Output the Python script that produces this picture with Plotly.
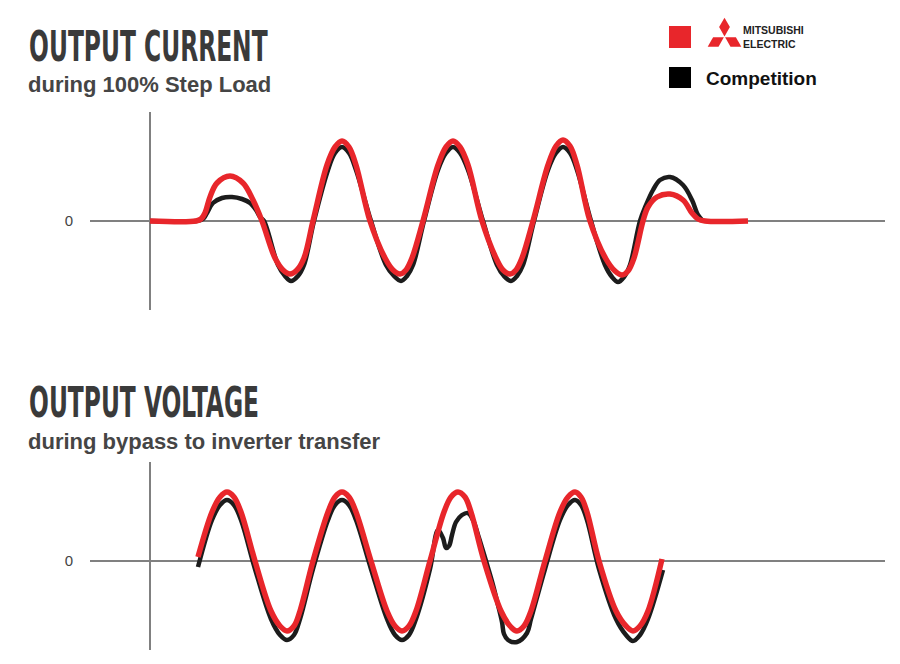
import json
import plotly.graph_objects as go

# ---------------- DATA (time units, signal units; 0 = zero line) ----------------
# Output current during 100% step load
cur_t_mitsu = [0, 46, 51, 55, 60, 67, 80, 93, 103, 112,
               125, 133, 140, 147, 154, 163, 177, 185, 192, 199, 206, 220,
               235, 243, 250, 256, 262, 273, 288, 296, 303, 310, 318, 332,
               346, 353, 360, 366, 372, 383, 398, 406, 413, 420, 427, 440,
               456, 465, 472, 478, 484, 493, 498, 507, 520, 533, 542, 548, 555, 598]
cur_v_mitsu = [0, 0, 2, 8, 24, 38, 45, 38, 21, 0,
               -37, -49, -53, -49, -37, 0, 56, 74, 80, 74, 56, 0,
               -37, -49, -53, -49, -37, 0, 56, 74, 80, 74, 56, 0,
               -37, -49, -53, -49, -37, 0, 56, 75, 81, 75, 56, 0,
               -38, -50, -54, -50, -37, 0, 14, 24, 27, 21, 8, 2, 0, 0]

cur_t_comp = [0, 46, 53, 57, 63, 72, 82, 92, 100, 106, 110, 114,
              128, 135, 141, 148, 154, 164, 178, 185, 192, 199, 206, 221,
              236, 244, 251, 257, 263, 274, 288, 296, 303, 310, 318, 333,
              347, 354, 361, 367, 373, 384, 398, 406, 413, 420, 427, 441,
              455, 462, 468, 474, 480, 490, 496, 503, 510, 520, 533, 542, 548, 553]
cur_v_comp = [0, 0, 2, 8, 18, 23, 24, 22, 18, 11, 4, 0,
              -44, -55, -60, -55, -44, 0, 51, 68, 74, 68, 51, 0,
              -44, -55, -60, -55, -44, 0, 51, 68, 74, 68, 51, 0,
              -44, -55, -60, -55, -44, 0, 51, 68, 74, 68, 51, 0,
              -44, -56, -61, -56, -44, 0, 16, 31, 41, 44, 36, 21, 6, 0]

# Output voltage during bypass to inverter transfer
vol_t_mitsu = [48, 62, 70, 77, 84, 91, 105, 121, 130, 137, 144, 150, 163,
               178, 185, 192, 199, 206, 221, 237, 245, 252, 259, 266, 280,
               294, 301, 308, 315, 321, 334, 351, 360, 367, 374, 381, 395,
               410, 418, 425, 431, 437, 449, 466, 476, 483, 490, 498, 512]
vol_v_mitsu = [4, 49, 64, 69, 64, 49, 0, -50, -65, -70, -65, -50, 0,
               49, 64, 69, 64, 49, 0, -50, -65, -70, -65, -50, 0,
               49, 64, 69, 64, 49, 0, -50, -65, -70, -65, -50, 0,
               49, 64, 69, 64, 49, 0, -50, -65, -70, -65, -50, 2]

vol_t_comp = [48, 62, 70, 77, 84, 91, 105, 121, 130, 137, 144, 150, 163,
              178, 185, 192, 199, 206, 221, 237, 245, 252, 259, 266, 280,
              288, 293, 296, 299, 302, 306, 312, 318, 323, 329, 336, 343, 348, 352, 354, 358,
              367, 377, 381, 395, 410, 418, 425, 431, 437, 449, 466, 476, 483, 490, 498, 513]
vol_v_comp = [-6, 41, 56, 61, 56, 41, -8, -58, -74, -79, -74, -58, -8,
              41, 56, 61, 56, 41, -8, -58, -74, -79, -74, -58, -8,
              31, 23, 13, 15, 26, 39, 46, 48, 41, 23, 0, -24, -44, -61, -73, -79,
              -81, -72, -58, -8, 41, 56, 61, 56, 41, -8, -58, -74, -80, -74, -58, -9]

zero_tick = [0]
zero_text = ["0"]
titles = ["OUTPUT CURRENT", "OUTPUT VOLTAGE"]
subtitles = ["during 100% Step Load", "during bypass to inverter transfer"]
legend_comp = "Competition"
logo_words = ["MITSUBISHI", "ELECTRIC"]

# ---------------- STYLE ----------------
W, H = 900, 664
RED = "#e8262b"
BLACK = "#1c1c1c"
AXIS = "#808080"
TITLE_FONT = "DejaVu Sans Condensed, DejaVu Sans, sans-serif"
BODY_FONT = "Liberation Sans, Arial, Helvetica, sans-serif"
TITLE_WIDTHS = [239, 230]   # target rendered widths of the condensed headline texts (px)


def px(x):
    return x / W


def py(y):
    return 1 - y / H


fig = go.Figure()


def add_pair(tc, vc, tm, vm, xa, ya):
    fig.add_trace(go.Scatter(x=tc, y=vc, mode="lines", xaxis=xa, yaxis=ya,
                             line=dict(color=BLACK, width=4.5, shape="spline", smoothing=1.0),
                             showlegend=False, hoverinfo="skip"))
    fig.add_trace(go.Scatter(x=tm, y=vm, mode="lines", xaxis=xa, yaxis=ya,
                             line=dict(color=RED, width=5.5, shape="spline", smoothing=1.0),
                             showlegend=False, hoverinfo="skip"))


add_pair(cur_t_comp, cur_v_comp, cur_t_mitsu, cur_v_mitsu, "x", "y")
add_pair(vol_t_comp, vol_v_comp, vol_t_mitsu, vol_v_mitsu, "x2", "y2")

xcommon = dict(domain=[px(90), px(885)], range=[-60, 735], showgrid=False, zeroline=True,
               zerolinecolor=AXIS, zerolinewidth=1.5, showticklabels=False, showline=False,
               fixedrange=True)
ycommon = dict(showgrid=False, zeroline=True, zerolinecolor=AXIS, zerolinewidth=1.5,
               tickvals=zero_tick, ticktext=zero_text, ticks="", ticklabelstandoff=16,
               tickfont=dict(family=BODY_FONT, size=15, color="#444444"), showline=False,
               fixedrange=True)

fig.update_layout(
    width=W, height=H,
    margin=dict(l=0, r=0, t=0, b=0),
    paper_bgcolor="white", plot_bgcolor="white",
    xaxis=dict(**xcommon, anchor="y"),
    yaxis=dict(**ycommon, domain=[py(310), py(112)], range=[-89, 109], anchor="x"),
    xaxis2=dict(**xcommon, anchor="y2"),
    yaxis2=dict(**ycommon, domain=[py(650), py(462)], range=[-89, 99], anchor="x2"),
)

ann = []
for title, sub, ty, sy in [(titles[0], subtitles[0], 46, 84), (titles[1], subtitles[1], 402, 441)]:
    ann.append(dict(text=title, x=px(27), y=py(ty), xref="paper", yref="paper",
                    xanchor="left", yanchor="middle", showarrow=False,
                    font=dict(family=TITLE_FONT, size=43, color="#3a3a3a", weight="bold")))
    ann.append(dict(text=sub, x=px(26), y=py(sy), xref="paper", yref="paper",
                    xanchor="left", yanchor="middle", showarrow=False,
                    font=dict(family=BODY_FONT, size=22, color="#454545", weight="bold")))

ann.append(dict(text=legend_comp, x=px(704), y=py(78), xref="paper", yref="paper",
                xanchor="left", yanchor="middle", showarrow=False,
                font=dict(family=BODY_FONT, size=19, color="#111111", weight="bold")))
ann.append(dict(text="<br>".join(logo_words), x=px(741), y=py(37), xref="paper", yref="paper",
                xanchor="left", yanchor="middle", align="left", showarrow=False,
                font=dict(family=BODY_FONT, size=10.5, color="#222222", weight="bold")))
fig.update_layout(annotations=ann)

shapes = []
shapes.append(dict(type="rect", xref="paper", yref="paper", x0=px(669), x1=px(691),
                   y0=py(48), y1=py(26), fillcolor=RED, line=dict(width=0)))
shapes.append(dict(type="rect", xref="paper", yref="paper", x0=px(669), x1=px(691),
                   y0=py(88), y1=py(67), fillcolor="#000000", line=dict(width=0)))

# Mitsubishi three-diamond mark
cx, cy, s = 724.5, 37.0, 10.8
h = 0.866 * s
g = 0.6


def path(pts):
    return "M " + " L ".join(f"{px(x):.5f},{py(y):.5f}" for x, y in pts) + " Z"


top = [(cx, cy - g), (cx + s / 2, cy - h - g), (cx, cy - 2 * h - g), (cx - s / 2, cy - h - g)]
right = [(cx + g, cy + g * 0.5), (cx + s + g, cy + g * 0.5), (cx + 1.5 * s + g, cy + h + g * 0.5),
         (cx + 0.5 * s + g, cy + h + g * 0.5)]
left = [(cx - g, cy + g * 0.5), (cx - s - g, cy + g * 0.5), (cx - 1.5 * s - g, cy + h + g * 0.5),
        (cx - 0.5 * s - g, cy + h + g * 0.5)]
for pts in (top, right, left):
    shapes.append(dict(type="path", xref="paper", yref="paper", path=path(pts),
                       fillcolor=RED, line=dict(width=0)))
fig.update_layout(shapes=shapes)

# page margin off, and squeeze headline texts horizontally (condensed display face look)
targets = json.dumps(dict(zip(titles, TITLE_WIDTHS)))
post = """
document.body.style.margin = '0';
var gd = document.getElementById('{plot_id}');
var targets = __TARGETS__;
function squeeze() {
  gd.querySelectorAll('text.annotation-text').forEach(function (t) {
    var w = targets[t.textContent];
    if (!w) { return; }
    t.style.transform = 'none';
    var bb = t.getBBox();
    if (bb.width > 0) {
      t.style.transformBox = 'fill-box';
      t.style.transformOrigin = '0% 50%';
      t.style.transform = 'scaleX(' + (w / bb.width) + ')';
    }
  });
}
squeeze();
gd.on('plotly_afterplot', squeeze);
""".replace("__TARGETS__", targets)

fig.write_html("out.html", post_script=post, config={"displayModeBar": False})
